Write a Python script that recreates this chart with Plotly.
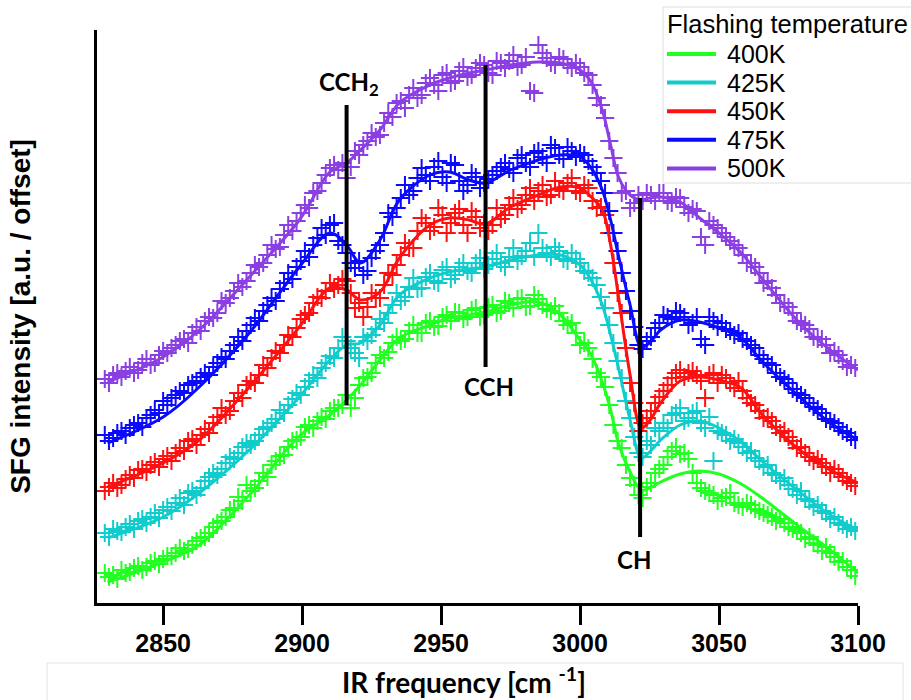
import plotly.graph_objects as go

# ---------------------------------------------------------------
# SFG spectra (offset) after flashing to different temperatures
# ---------------------------------------------------------------
temperatures = ["400K", "425K", "450K", "475K", "500K"]
colors = ["#22ff22", "#11cccc", "#ff1010", "#0a0aff", "#8b3fe3"]

# scan 1: IR frequency (cm^-1) and SFG intensity (a.u., offset)
x_scan1 = [2829, 2832, 2835, 2838, 2841, 2844, 2847, 2850, 2853, 2856, 2859, 2862, 2865,
           2868, 2871, 2874, 2877, 2880, 2883, 2886, 2889, 2892, 2895, 2898, 2901, 2904,
           2907, 2910, 2913, 2916, 2919, 2922, 2925, 2928, 2931, 2934, 2937, 2940, 2943,
           2946, 2949, 2952, 2955, 2958, 2961, 2964, 2967, 2970, 2973, 2976, 2979, 2982,
           2985, 2988, 2991, 2994, 2997, 3000, 3003, 3006, 3009, 3012, 3015, 3018, 3021,
           3024, 3027, 3030, 3033, 3036, 3039, 3042, 3045, 3048, 3051, 3054, 3057, 3060,
           3063, 3066, 3069, 3072, 3075, 3078, 3081, 3084, 3087, 3090, 3093, 3096, 3099]

scan1_400 = [0.30, 0.28, 0.33, 0.31, 0.37, 0.36, 0.42, 0.44, 0.47, 0.55, 0.54, 0.62, 0.66,
             0.76, 0.82, 0.93, 1.06, 1.18, 1.15, 1.30, 1.38, 1.47, 1.56, 1.63, 1.76, 1.75,
             1.86, 1.92, 1.95, 2.08, 2.05, 2.25, 2.30, 2.48, 2.51, 2.66, 2.64, 2.78, 2.70,
             2.82, 2.77, 2.88, 2.91, 2.84, 2.93, 2.86, 2.96, 2.90, 3.02, 2.95, 3.05, 2.97,
             3.04, 2.94, 2.97, 2.82, 2.80, 2.58, 2.55, 2.30, 2.16, 1.78, 1.55, 1.25, 1.08,
             1.16, 1.30, 1.38, 1.52, 1.49, 1.44, 1.20, 1.12, 1.08, 1.05, 1.10, 0.98, 1.00,
             0.94, 0.90, 0.86, 0.84, 0.76, 0.72, 0.64, 0.60, 0.52, 0.50, 0.41, 0.36, 0.27]

scan1_425 = [0.70, 0.74, 0.71, 0.79, 0.82, 0.80, 0.90, 0.93, 0.92, 1.05, 1.10, 1.08, 1.22,
             1.30, 1.34, 1.46, 1.50, 1.60, 1.62, 1.74, 1.80, 1.93, 1.98, 2.10, 2.16, 2.28,
             2.35, 2.47, 2.55, 2.62, 2.50, 2.66, 2.68, 2.84, 2.90, 3.10, 3.06, 3.25, 3.15,
             3.30, 3.20, 3.36, 3.28, 3.40, 3.30, 3.45, 3.38, 3.50, 3.36, 3.55, 3.47, 3.60,
             3.70, 3.50, 3.56, 3.44, 3.50, 3.40, 3.30, 3.18, 2.95, 2.60, 2.25, 1.85, 1.50,
             1.62, 1.75, 1.80, 1.88, 1.95, 1.85, 1.92, 1.75, 1.42, 1.70, 1.62, 1.60, 1.50,
             1.45, 1.36, 1.30, 1.22, 1.18, 1.08, 1.04, 0.96, 0.92, 0.84, 0.80, 0.74, 0.72]

scan1_450 = [1.12, 1.20, 1.18, 1.28, 1.33, 1.31, 1.41, 1.44, 1.42, 1.55, 1.62, 1.58, 1.74,
             1.80, 1.95, 1.92, 2.10, 2.18, 2.20, 2.38, 2.45, 2.50, 2.68, 2.75, 2.88, 3.00,
             3.05, 3.20, 3.18, 3.22, 2.95, 2.86, 3.10, 3.05, 3.30, 3.38, 3.60, 3.55, 3.85,
             3.72, 3.95, 3.70, 3.90, 3.78, 3.92, 3.75, 3.72, 3.95, 3.88, 4.05, 3.98, 4.15,
             4.12, 4.06, 4.22, 4.12, 4.25, 4.10, 4.15, 3.95, 3.88, 3.40, 2.90, 2.20, 1.72,
             1.85, 2.00, 2.12, 2.25, 2.33, 2.30, 2.28, 2.05, 2.30, 2.28, 2.20, 2.22, 2.05,
             1.98, 1.85, 1.82, 1.70, 1.66, 1.55, 1.50, 1.42, 1.40, 1.30, 1.30, 1.22, 1.17]

scan1_475 = [1.68, 1.65, 1.72, 1.75, 1.80, 1.85, 1.93, 2.02, 2.05, 2.12, 2.18, 2.22, 2.30,
             2.36, 2.46, 2.52, 2.66, 2.72, 2.85, 2.92, 3.05, 3.14, 3.30, 3.36, 3.52, 3.58,
             3.75, 3.78, 3.62, 3.50, 3.35, 3.28, 3.45, 3.58, 3.90, 3.95, 4.18, 4.12, 4.35,
             4.22, 4.42, 4.20, 4.38, 4.12, 4.30, 4.15, 4.24, 4.32, 4.40, 4.30, 4.48, 4.36,
             4.52, 4.40, 4.55, 4.44, 4.52, 4.50, 4.42, 4.30, 4.10, 3.70, 3.30, 2.92, 2.58,
             2.62, 2.75, 2.88, 2.84, 2.90, 2.78, 2.86, 2.58, 2.82, 2.80, 2.72, 2.70, 2.62,
             2.55, 2.44, 2.38, 2.26, 2.20, 2.10, 2.05, 1.96, 1.90, 1.82, 1.76, 1.70, 1.63]

scan1_500 = [2.24, 2.28, 2.26, 2.36, 2.33, 2.44, 2.40, 2.52, 2.55, 2.62, 2.60, 2.76, 2.82,
             2.85, 3.02, 3.05, 3.20, 3.22, 3.38, 3.40, 3.58, 3.56, 3.78, 3.82, 3.98, 4.10,
             4.20, 4.35, 4.33, 4.25, 4.52, 4.58, 4.70, 4.68, 4.90, 5.00, 4.95, 5.15, 5.08,
             5.25, 5.12, 5.30, 5.22, 5.36, 5.28, 5.40, 5.30, 5.42, 5.35, 5.48, 5.38, 5.12,
             5.58, 5.45, 5.38, 5.44, 5.35, 5.36, 5.28, 5.05, 4.85, 4.45, 4.10, 3.95, 4.08,
             4.10, 4.02, 4.10, 4.00, 4.05, 3.90, 3.92, 3.58, 3.78, 3.70, 3.62, 3.55, 3.40,
             3.36, 3.20, 3.15, 3.00, 2.96, 2.82, 2.78, 2.66, 2.64, 2.50, 2.48, 2.36, 2.35]

# scan 2 (interleaved frequencies)
x_scan2 = [2830.5, 2833.5, 2836.5, 2839.5, 2842.5, 2845.5, 2848.5, 2851.5, 2854.5, 2857.5,
           2860.5, 2863.5, 2866.5, 2869.5, 2872.5, 2875.5, 2878.5, 2881.5, 2884.5, 2887.5,
           2890.5, 2893.5, 2896.5, 2899.5, 2902.5, 2905.5, 2908.5, 2911.5, 2914.5, 2917.5,
           2920.5, 2923.5, 2926.5, 2929.5, 2932.5, 2935.5, 2938.5, 2941.5, 2944.5, 2947.5,
           2950.5, 2953.5, 2956.5, 2959.5, 2962.5, 2965.5, 2968.5, 2971.5, 2974.5, 2977.5,
           2980.5, 2983.5, 2986.5, 2989.5, 2992.5, 2995.5, 2998.5, 3001.5, 3004.5, 3007.5,
           3010.5, 3013.5, 3016.5, 3019.5, 3022.5, 3025.5, 3028.5, 3031.5, 3034.5, 3037.5,
           3040.5, 3043.5, 3046.5, 3049.5, 3052.5, 3055.5, 3058.5, 3061.5, 3064.5, 3067.5,
           3070.5, 3073.5, 3076.5, 3079.5, 3082.5, 3085.5, 3088.5, 3091.5, 3094.5, 3097.5]

scan2_400 = [0.26, 0.24, 0.30, 0.35, 0.33, 0.40, 0.39, 0.47, 0.50, 0.52, 0.58, 0.65, 0.70,
             0.80, 0.86, 0.95, 1.02, 1.12, 1.22, 1.26, 1.42, 1.48, 1.62, 1.66, 1.78, 1.82,
             1.84, 1.95, 1.98, 1.95, 2.18, 2.26, 2.40, 2.45, 2.60, 2.62, 2.72, 2.70, 2.80,
             2.76, 2.86, 2.82, 2.90, 2.86, 2.95, 2.88, 2.98, 2.92, 3.00, 3.04, 2.96, 3.08,
             2.98, 2.92, 2.90, 2.78, 2.70, 2.60, 2.44, 2.26, 1.98, 1.62, 1.38, 1.18, 1.05,
             1.20, 1.34, 1.46, 1.56, 1.50, 1.30, 1.15, 1.10, 1.02, 1.06, 1.00, 0.96, 0.98,
             0.92, 0.88, 0.82, 0.80, 0.74, 0.70, 0.66, 0.58, 0.56, 0.46, 0.42, 0.33]

scan2_425 = [0.66, 0.72, 0.76, 0.74, 0.84, 0.86, 0.85, 0.96, 1.00, 0.98, 1.12, 1.15, 1.26,
             1.28, 1.40, 1.44, 1.56, 1.58, 1.68, 1.76, 1.84, 1.90, 2.04, 2.08, 2.22, 2.25,
             2.40, 2.45, 2.66, 2.55, 2.45, 2.62, 2.74, 2.80, 2.98, 3.02, 3.16, 3.14, 3.26,
             3.22, 3.33, 3.24, 3.36, 3.32, 3.40, 3.34, 3.44, 3.40, 3.46, 3.42, 3.52, 3.46,
             3.55, 3.46, 3.52, 3.42, 3.44, 3.32, 3.25, 3.06, 2.78, 2.42, 2.02, 1.66, 1.46,
             1.58, 1.72, 1.75, 1.90, 1.82, 1.90, 1.80, 1.86, 1.72, 1.68, 1.64, 1.56, 1.52,
             1.42, 1.38, 1.28, 1.25, 1.14, 1.12, 1.02, 0.98, 0.90, 0.86, 0.78, 0.76]

scan2_450 = [1.16, 1.15, 1.24, 1.25, 1.34, 1.38, 1.36, 1.47, 1.50, 1.52, 1.64, 1.68, 1.70,
             1.86, 1.88, 2.02, 2.05, 2.22, 2.28, 2.35, 2.52, 2.58, 2.66, 2.84, 2.90, 3.06,
             3.12, 3.14, 3.24, 3.10, 3.00, 2.96, 3.05, 3.18, 3.28, 3.48, 3.55, 3.72, 3.80,
             3.76, 3.88, 3.80, 3.94, 3.70, 3.86, 3.80, 3.78, 3.84, 3.98, 3.94, 4.08, 4.02,
             4.18, 4.08, 4.14, 4.20, 4.12, 4.18, 4.02, 3.96, 3.70, 3.10, 2.55, 2.00, 1.80,
             1.92, 2.06, 2.18, 2.30, 2.26, 2.32, 2.22, 2.28, 2.20, 2.25, 2.15, 2.12, 2.00,
             1.92, 1.86, 1.76, 1.72, 1.62, 1.56, 1.46, 1.44, 1.36, 1.34, 1.26, 1.20]

scan2_475 = [1.62, 1.70, 1.68, 1.78, 1.76, 1.88, 1.90, 1.98, 2.08, 2.10, 2.20, 2.26, 2.28,
             2.40, 2.44, 2.58, 2.62, 2.78, 2.82, 2.98, 3.02, 3.20, 3.24, 3.42, 3.46, 3.65,
             3.68, 3.80, 3.58, 3.40, 3.42, 3.32, 3.52, 3.70, 3.86, 4.05, 4.08, 4.25, 4.28,
             4.36, 4.26, 4.40, 4.22, 4.18, 4.26, 4.20, 4.28, 4.36, 4.34, 4.45, 4.40, 4.50,
             4.46, 4.58, 4.48, 4.56, 4.46, 4.48, 4.36, 4.22, 3.92, 3.52, 3.12, 2.76, 2.54,
             2.66, 2.80, 2.86, 2.92, 2.86, 2.80, 2.64, 2.86, 2.76, 2.74, 2.68, 2.64, 2.58,
             2.48, 2.40, 2.30, 2.24, 2.14, 2.08, 2.00, 1.94, 1.84, 1.80, 1.72, 1.66]

scan2_500 = [2.20, 2.30, 2.32, 2.30, 2.40, 2.38, 2.48, 2.50, 2.58, 2.64, 2.70, 2.72, 2.86,
             2.90, 3.00, 3.12, 3.16, 3.30, 3.36, 3.48, 3.54, 3.68, 3.72, 3.90, 3.95, 4.12,
             4.28, 4.38, 4.40, 4.36, 4.48, 4.62, 4.66, 4.80, 4.86, 5.02, 5.08, 5.05, 5.20,
             5.18, 5.28, 5.20, 5.32, 5.26, 5.35, 5.38, 5.28, 5.40, 5.42, 5.36, 5.46, 5.10,
             5.50, 5.40, 5.46, 5.38, 5.40, 5.30, 5.18, 4.98, 4.62, 4.30, 4.12, 4.00, 4.02,
             4.08, 4.10, 4.02, 4.06, 3.96, 3.94, 3.66, 3.82, 3.75, 3.66, 3.58, 3.48, 3.40,
             3.30, 3.22, 3.08, 3.00, 2.90, 2.80, 2.74, 2.64, 2.58, 2.52, 2.42, 2.38]

# fitted spectra
x_fit = [2830, 2850, 2863, 2881, 2899, 2910, 2916, 2921, 2928, 2935, 2946, 2953, 2960,
         2966, 2975, 2985, 2993, 3000, 3004, 3008, 3011, 3014, 3018, 3022, 3025, 3029,
         3036, 3043, 3050, 3058, 3065, 3079, 3090, 3100]

fit_400 = [0.21, 0.41, 0.58, 1.08, 1.67, 1.88, 2.03, 2.18, 2.43, 2.65, 2.78, 2.85, 2.88,
           2.91, 2.98, 3.01, 2.88, 2.63, 2.48, 2.21, 1.93, 1.58, 1.31, 1.13, 1.15, 1.21,
           1.29, 1.32, 1.29, 1.19, 1.06, 0.76, 0.53, 0.30]

fit_425 = [0.65, 0.86, 1.10, 1.53, 2.06, 2.43, 2.58, 2.60, 2.78, 3.08, 3.25, 3.31, 3.34,
           3.36, 3.43, 3.48, 3.48, 3.38, 3.23, 2.98, 2.68, 2.33, 1.83, 1.45, 1.51, 1.63,
           1.78, 1.82, 1.75, 1.61, 1.43, 1.11, 0.88, 0.73]

fit_450 = [1.16, 1.40, 1.63, 2.16, 2.76, 3.15, 3.13, 3.03, 3.11, 3.45, 3.78, 3.85, 3.83,
           3.79, 3.96, 4.08, 4.16, 4.15, 4.06, 3.93, 3.58, 3.03, 2.28, 1.75, 1.82, 2.00,
           2.22, 2.26, 2.23, 2.15, 1.90, 1.53, 1.33, 1.20]

fit_475 = [1.60, 1.86, 2.16, 2.70, 3.36, 3.70, 3.58, 3.40, 3.63, 4.03, 4.28, 4.31, 4.23,
           4.20, 4.33, 4.43, 4.48, 4.46, 4.35, 4.13, 3.83, 3.45, 2.98, 2.56, 2.60, 2.73,
           2.83, 2.81, 2.75, 2.65, 2.43, 2.06, 1.80, 1.63]

fit_500 = [2.21, 2.46, 2.73, 3.26, 3.83, 4.31, 4.40, 4.53, 4.73, 5.00, 5.18, 5.25, 5.30,
           5.33, 5.38, 5.41, 5.40, 5.33, 5.21, 4.93, 4.58, 4.25, 4.08, 4.03, 4.05, 4.06,
           4.01, 3.85, 3.70, 3.50, 3.26, 2.80, 2.53, 2.33]

scans1 = [scan1_400, scan1_425, scan1_450, scan1_475, scan1_500]
scans2 = [scan2_400, scan2_425, scan2_450, scan2_475, scan2_500]
fitted = [fit_400, fit_425, fit_450, fit_475, fit_500]

# vibrational mode assignments (cm^-1)
mode_names = ["CCH<sub>2</sub>", "CCH", "CH"]
mode_freqs = [2916, 2966, 3021.6]

# plot-area geometry in pixels (used to place the legend block and frame)
L, R, T, B = 97, 858, 30, 603


def px(xp):
    return (xp - L) / (R - L)


def py(yp):
    return (B - yp) / (B - T)


fig = go.Figure()

for col, y1, y2 in zip(colors, scans1, scans2):
    for xs, ys in ((x_scan1, y1), (x_scan2, y2)):
        fig.add_trace(go.Scatter(
            x=xs, y=ys, mode="markers", showlegend=False, hoverinfo="skip",
            marker=dict(symbol="cross-thin", size=13, line=dict(color=col, width=2)),
        ))

for temp, col, ys in zip(temperatures, colors, fitted):
    fig.add_trace(go.Scatter(
        x=x_fit, y=ys, mode="lines", name=temp, showlegend=False,
        line=dict(color=col, width=3, shape="spline", smoothing=1.0),
    ))

# marker lines for the mode assignments: (bottom, top) in a.u.
line_spans = [(1.98, 4.98), (2.36, 5.38), (0.66, 4.05)]
label_pos = [(5.01, "bottom"), (2.33, "top"), (0.60, "top")]
label_dx = [2, 3, -6]
for name, f, (y0, y1), (ly, anchor), dx in zip(mode_names, mode_freqs, line_spans,
                                             label_pos, label_dx):
    fig.add_shape(type="line", x0=f, x1=f, y0=y0, y1=y1, xref="x", yref="y",
                  line=dict(color="black", width=4))
    fig.add_annotation(x=f, y=ly, xref="x", yref="y", text=name, showarrow=False,
                       xshift=dx, yanchor=anchor,
                       font=dict(family="Lato, Open Sans, sans-serif", size=24,
                                 color="black", weight="bold"))

# legend block: framed title and one line sample per temperature
legend_font = dict(family="Liberation Sans, Arial, sans-serif", color="black")
fig.add_shape(type="rect", xref="paper", yref="paper",
              x0=px(663), x1=px(920), y0=py(183), y1=py(7),
              line=dict(color="#dddddd", width=1), fillcolor="white", layer="above")
fig.add_annotation(xref="paper", yref="paper", x=px(665), y=py(24),
                   text="Flashing temperature", showarrow=False,
                   xanchor="left", yanchor="middle", font=dict(size=25.5, **legend_font))
for i, (temp, col) in enumerate(zip(temperatures, colors)):
    yrow = 54 + 28.6 * i
    fig.add_shape(type="line", xref="paper", yref="paper",
                  x0=px(667), x1=px(716), y0=py(yrow), y1=py(yrow),
                  line=dict(color=col, width=4), layer="above")
    fig.add_annotation(xref="paper", yref="paper", x=px(725), y=py(yrow),
                       text=temp, showarrow=False, xanchor="left", yanchor="middle",
                       font=dict(size=25, **legend_font))

# x-axis title with its light frame
fig.add_shape(type="rect", xref="paper", yref="paper",
              x0=px(47), x1=px(903), y0=py(701), y1=py(663),
              line=dict(color="#e2e2e2", width=1))
fig.add_annotation(xref="paper", yref="paper", x=px(464), y=py(680),
                   text="IR frequency [cm <sup>-1</sup>]", showarrow=False,
                   xanchor="center", yanchor="middle",
                   font=dict(family="Lato, Open Sans, sans-serif", size=28,
                             color="black", weight="bold"))

fig.update_layout(
    width=911, height=700,
    margin=dict(l=L, r=911 - R, t=T, b=700 - B, autoexpand=False),
    paper_bgcolor="white", plot_bgcolor="white",
    showlegend=False,
    xaxis=dict(
        range=[2826.2, 3100], showgrid=False, zeroline=False,
        showline=True, linecolor="black", linewidth=3,
        ticks="outside", ticklen=19, tickwidth=3, tickcolor="black",
        ticklabelstandoff=-3,
        tickvals=[2850, 2900, 2950, 3000, 3050, 3100],
        tickfont=dict(family="Liberation Sans, Arial, sans-serif",
                      size=25, color="black", weight="bold"),
    ),
    yaxis=dict(
        range=[0, 5.73], showgrid=False, zeroline=False,
        showline=True, linecolor="black", linewidth=3,
        showticklabels=False, ticks="",
        title=dict(text="SFG intensity [a.u. / offset]", standoff=56,
                   font=dict(family="Liberation Sans, Arial, sans-serif", size=28,
                             color="black", weight="bold")),
    ),
)

fig.write_html("out.html")
